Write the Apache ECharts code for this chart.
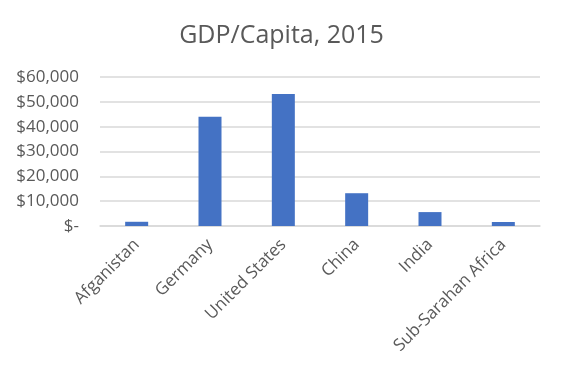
<!DOCTYPE html>
<html><head><meta charset="utf-8">
<script src="https://cdn.jsdelivr.net/npm/echarts@6/dist/echarts.min.js"></script>
<style>html,body{margin:0;padding:0;background:#fff}#c{width:563px;height:370px}</style>
</head><body><div id="c"></div>
<script>
const categories = ["Afganistan", "Germany", "United States", "China", "India", "Sub-Sarahan Africa"];
const gdpPerCapita = [1700, 44000, 53200, 13200, 5600, 1600];
const yTicks = [0, 10000, 20000, 30000, 40000, 50000, 60000];

function fmt(v) {
  if (v === 0) return "$-";
  return "$" + v.toLocaleString("en-US");
}
const FONT = "Open Sans";
const chart = echarts.init(document.getElementById("c"));
chart.setOption({
  animation: false,
  textStyle: { fontFamily: FONT },
  title: {
    text: "GDP/Capita, 2015", left: "center", top: 18,
    textStyle: { fontSize: 25, fontWeight: "normal", color: "#595959", fontFamily: FONT }
  },
  grid: { left: 100, right: 23, top: 77, bottom: 144 },
  xAxis: {
    type: "category", data: categories,
    axisLine: { lineStyle: { color: "#d9d9d9", width: 1.5 } },
    axisTick: { show: false },
    axisLabel: { rotate: 45, color: "#595959", fontSize: 17, fontFamily: FONT, margin: 16, interval: 0 }
  },
  yAxis: {
    type: "value", min: yTicks[0], max: yTicks[yTicks.length - 1], interval: 10000,
    axisLine: { show: false }, axisTick: { show: false },
    splitLine: { lineStyle: { color: "#d9d9d9", width: 1.5 } },
    axisLabel: { color: "#595959", fontSize: 17, fontFamily: FONT, margin: 21, formatter: fmt }
  },
  series: [{
    type: "bar", data: gdpPerCapita, barWidth: 23,
    itemStyle: { color: "#4472c4" }
  }]
});
</script></body></html>
